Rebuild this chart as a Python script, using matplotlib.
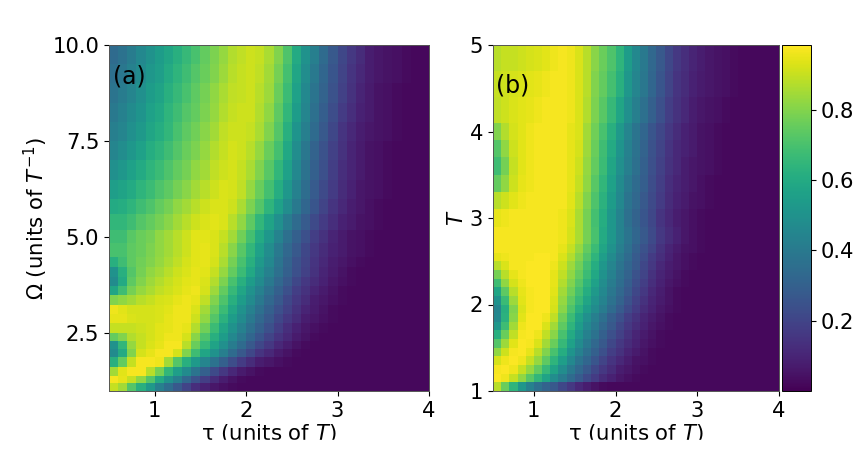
import numpy as np
import matplotlib
matplotlib.use('Agg')
import matplotlib.pyplot as plt
from matplotlib.patches import Rectangle

# values in percent, columns tau = 0.5, 0.6, ... (rest of each row is dark)
dark = 2
tau_edges = np.arange(36) * 0.1 + 0.5

omega_edges = [10.0, 9.5, 9.0, 8.5, 8.0, 7.5, 7.0, 6.5, 6.0, 5.6, 5.2, 4.85, 4.48, 4.22, 3.97, 3.72, 3.5, 3.25, 3.0,
               2.78, 2.52, 2.3, 2.1, 1.88, 1.62, 1.4, 1.2, 1.0]
fid_a = [
    [34, 37, 41, 46, 50, 54, 58, 62, 66, 70, 75, 79, 83, 87, 89, 91, 90, 86, 80, 71, 60, 50, 42, 34, 27, 21, 16, 12, 8, 6, 5, 4, 3],
    [36, 39, 43, 47, 52, 55, 60, 64, 68, 72, 76, 80, 84, 88, 90, 91, 89, 85, 78, 69, 58, 48, 40, 32, 26, 20, 15, 11, 8, 6, 5, 4, 3],
    [38, 41, 45, 49, 54, 57, 62, 66, 70, 74, 78, 82, 86, 89, 90, 91, 88, 84, 76, 67, 56, 46, 38, 31, 25, 19, 14, 10, 7, 5, 4, 3],
    [40, 43, 47, 51, 56, 59, 64, 68, 72, 75, 79, 83, 87, 90, 91, 91, 87, 82, 74, 65, 54, 45, 36, 29, 23, 17, 13, 9, 7, 5, 4, 3],
    [42, 45, 49, 53, 58, 61, 65, 70, 74, 77, 81, 85, 89, 91, 91, 90, 86, 80, 72, 62, 51, 42, 34, 27, 21, 15, 11, 8, 6, 5, 4, 3],
    [45, 48, 52, 56, 61, 64, 68, 72, 76, 79, 83, 87, 90, 92, 91, 88, 83, 76, 69, 59, 48, 39, 31, 25, 19, 14, 10, 7, 5, 4, 3],
    [49, 52, 56, 60, 64, 67, 71, 75, 78, 82, 85, 89, 91, 92, 90, 86, 80, 73, 65, 56, 46, 37, 30, 24, 18, 13, 10, 7, 5, 4, 3],
    [55, 57, 60, 64, 67, 71, 74, 78, 81, 85, 88, 91, 93, 92, 89, 83, 76, 69, 61, 52, 43, 35, 28, 22, 17, 12, 9, 6, 5, 4, 3],
    [60, 61, 64, 68, 71, 75, 78, 82, 85, 88, 91, 93, 93, 91, 86, 79, 72, 64, 56, 48, 40, 32, 26, 20, 15, 11, 8, 6, 4, 3],
    [65, 65, 68, 72, 75, 78, 81, 85, 88, 91, 93, 94, 93, 88, 82, 74, 65, 57, 49, 41, 34, 28, 22, 17, 13, 9, 7, 5, 4, 3],
    [68, 68, 73, 76, 78, 82, 85, 88, 91, 94, 94, 93, 90, 85, 77, 69, 60, 52, 44, 36, 30, 24, 18, 14, 10, 7, 5, 4, 3],
    [70, 70, 74, 76, 79, 82, 85, 88, 91, 94, 95, 93, 88, 81, 73, 65, 56, 48, 40, 33, 27, 21, 16, 12, 9, 7, 5, 4, 3],
    [62, 68, 74, 77, 80, 83, 86, 89, 92, 94, 95, 92, 86, 78, 70, 62, 53, 46, 38, 31, 25, 20, 15, 11, 8, 6, 4, 3],
    [50, 62, 72, 78, 82, 85, 88, 91, 93, 95, 94, 90, 83, 75, 67, 59, 50, 43, 36, 30, 24, 19, 14, 10, 7, 5, 3],
    [47, 60, 74, 80, 84, 87, 90, 92, 94, 95, 93, 87, 79, 70, 62, 54, 47, 40, 33, 27, 21, 16, 12, 9, 6, 4, 3],
    [58, 68, 78, 83, 86, 89, 91, 93, 95, 96, 92, 84, 75, 66, 58, 50, 43, 36, 30, 24, 18, 14, 10, 7, 5, 3],
    [80, 82, 85, 88, 90, 92, 93, 95, 96, 95, 89, 80, 71, 62, 54, 47, 40, 33, 27, 21, 16, 12, 8, 6, 4, 3],
    [96, 94, 92, 92, 92, 93, 94, 96, 96, 93, 85, 76, 67, 58, 50, 43, 36, 30, 24, 19, 14, 10, 7, 5, 3],
    [95, 95, 93, 92, 92, 93, 95, 96, 96, 91, 82, 72, 63, 54, 47, 40, 33, 27, 21, 16, 12, 8, 6, 4, 3],
    [90, 90, 90, 91, 92, 94, 95, 96, 95, 87, 77, 67, 58, 50, 43, 36, 30, 24, 18, 13, 9, 6, 4, 3],
    [75, 80, 87, 90, 92, 94, 96, 96, 92, 81, 71, 62, 54, 46, 39, 32, 26, 20, 15, 11, 7, 5, 3],
    [50, 65, 83, 90, 93, 95, 97, 97, 88, 76, 66, 57, 49, 41, 34, 27, 21, 16, 11, 8, 5, 3],
    [47, 60, 80, 92, 95, 97, 97, 92, 80, 68, 58, 50, 42, 34, 27, 21, 15, 11, 7, 5, 3],
    [62, 75, 90, 97, 97, 96, 85, 72, 62, 53, 45, 37, 30, 23, 17, 12, 8, 6, 4, 3],
    [85, 94, 97, 97, 88, 78, 65, 55, 47, 38, 30, 22, 16, 11, 7, 5, 3],
    [97, 95, 90, 82, 72, 60, 50, 42, 33, 25, 18, 12, 8, 5, 3],
    [90, 85, 72, 62, 53, 42, 35, 27, 20, 13, 9, 6, 4, 3],
]

t_edges = [5.0, 4.7, 4.4, 4.1, 3.9, 3.7, 3.5, 3.3, 3.1, 2.9, 2.7, 2.6, 2.5, 2.4, 2.3, 2.2, 2.1, 2.0, 1.9, 1.8, 1.7,
           1.6, 1.5, 1.4, 1.3, 1.2, 1.1, 1.0]
fid_b = [
    [88, 90, 90, 91, 92, 93, 94, 96, 97, 96, 93, 88, 81, 76, 71, 64, 54, 46, 40, 33, 27, 21, 16, 13, 10, 8, 6, 5, 4, 3],
    [90, 91, 92, 93, 94, 95, 96, 97, 97, 96, 93, 88, 80, 75, 69, 62, 52, 45, 39, 32, 26, 20, 15, 12, 9, 7, 6, 5, 4, 3],
    [89, 91, 93, 94, 95, 96, 97, 97, 97, 96, 93, 87, 79, 73, 66, 58, 49, 42, 36, 30, 24, 18, 14, 11, 8, 6, 5, 4, 3],
    [80, 87, 92, 94, 96, 97, 97, 97, 97, 95, 93, 85, 77, 70, 62, 53, 45, 38, 32, 26, 21, 16, 12, 9, 7, 5, 4, 3],
    [72, 82, 91, 94, 96, 97, 97, 97, 97, 95, 92, 84, 76, 68, 60, 51, 43, 37, 31, 25, 20, 15, 11, 9, 7, 5, 4, 3],
    [68, 78, 90, 94, 96, 97, 97, 97, 97, 95, 91, 83, 75, 67, 58, 49, 42, 36, 30, 24, 19, 14, 11, 8, 6, 5, 4, 3],
    [75, 82, 91, 95, 96, 97, 97, 97, 97, 95, 90, 82, 73, 65, 56, 47, 40, 34, 29, 23, 18, 13, 10, 8, 6, 4, 3],
    [88, 91, 94, 96, 97, 97, 97, 97, 97, 94, 88, 80, 71, 63, 54, 46, 38, 33, 27, 22, 17, 12, 9, 7, 5, 4, 3],
    [95, 96, 97, 97, 97, 97, 97, 97, 96, 93, 86, 78, 69, 61, 52, 44, 36, 31, 26, 21, 15, 11, 8, 6, 4, 3],
    [97, 97, 97, 97, 97, 97, 97, 97, 96, 92, 86, 78, 70, 60, 52, 44, 38, 32, 27, 22, 16, 12, 9, 6, 4, 3],
    [97, 97, 97, 97, 97, 97, 97, 97, 95, 90, 83, 75, 67, 58, 50, 42, 36, 30, 25, 20, 14, 10, 7, 5, 4, 3],
    [95, 96, 97, 97, 97, 98, 98, 97, 93, 87, 80, 72, 64, 55, 47, 40, 34, 28, 23, 17, 13, 9, 6, 4, 3],
    [88, 93, 97, 97, 98, 98, 98, 96, 91, 84, 77, 69, 61, 52, 45, 38, 32, 27, 21, 16, 11, 8, 6, 4, 3],
    [78, 88, 95, 97, 98, 98, 98, 95, 89, 82, 75, 67, 59, 50, 43, 36, 31, 25, 20, 14, 10, 7, 5, 3],
    [68, 82, 92, 96, 98, 98, 98, 95, 87, 80, 72, 64, 56, 48, 41, 35, 29, 23, 18, 13, 9, 6, 4, 3],
    [58, 74, 88, 95, 97, 98, 98, 94, 85, 77, 69, 61, 53, 46, 39, 33, 27, 21, 16, 11, 8, 5, 3],
    [50, 67, 84, 94, 97, 98, 98, 93, 83, 74, 66, 58, 50, 44, 37, 31, 25, 19, 14, 10, 7, 5, 3],
    [45, 62, 80, 93, 97, 98, 98, 92, 81, 71, 62, 54, 47, 41, 34, 28, 22, 17, 12, 9, 6, 4, 3],
    [46, 63, 81, 94, 98, 98, 96, 89, 77, 67, 57, 49, 42, 36, 29, 24, 18, 14, 10, 7, 5, 3],
    [52, 68, 85, 96, 98, 98, 93, 85, 74, 64, 54, 46, 40, 33, 27, 21, 16, 12, 9, 6, 4, 3],
    [62, 76, 89, 97, 98, 96, 89, 81, 70, 60, 51, 43, 37, 30, 24, 19, 14, 10, 7, 5, 3],
    [72, 84, 94, 98, 97, 93, 85, 76, 66, 56, 47, 40, 33, 27, 21, 16, 12, 9, 6, 4, 3],
    [82, 91, 97, 98, 95, 88, 80, 70, 61, 51, 43, 36, 30, 24, 18, 14, 10, 7, 5, 3],
    [92, 96, 98, 96, 90, 83, 74, 64, 55, 46, 38, 32, 26, 20, 15, 11, 8, 5, 4, 3],
    [97, 98, 96, 90, 83, 75, 66, 57, 48, 40, 33, 27, 21, 16, 12, 8, 6, 4, 3],
    [98, 96, 90, 82, 73, 65, 57, 48, 41, 34, 28, 22, 17, 12, 9, 6, 4, 3],
    [88, 76, 64, 52, 43, 36, 31, 27, 21, 16, 11, 8, 5, 3],
]


def to_grid(rows):
    # pad every row with the dark tail
    grid = np.full((len(rows), 35), dark, dtype=float)
    for i, r in enumerate(rows):
        grid[i, :len(r)] = r
    return grid / 100.0


fig = plt.figure(figsize=(8.64, 4.66), dpi=100)
W, H = 864.0, 466.0


def px_axes(x0, y0, x1, y1):
    return fig.add_axes([x0 / W, 1 - y1 / H, (x1 - x0) / W, (y1 - y0) / H])


ax1 = px_axes(109, 45, 429, 391)
ax2 = px_axes(493, 45, 779, 391)
cax = px_axes(782, 45, 811, 391)

m1 = ax1.pcolormesh(tau_edges, omega_edges, to_grid(fid_a), cmap='viridis', vmin=0.0, vmax=0.985)
m2 = ax2.pcolormesh(tau_edges, t_edges, to_grid(fid_b), cmap='viridis', vmin=0.0, vmax=0.985)

ax1.set_xlim(0.5, 4)
ax1.set_ylim(1, 10)
ax1.set_xticks([1, 2, 3, 4])
ax1.set_yticks([2.5, 5.0, 7.5, 10.0])
ax1.set_yticklabels(['2.5', '5.0', '7.5', '10.0'])
ax1.set_xlabel('τ (units of $T$)', fontsize=15.3, labelpad=1)
ax1.set_ylabel(r'$\Omega$ (units of $T^{-1}$)', fontsize=15.3, labelpad=2)
ax1.text(0.012, 0.888, '(a)', transform=ax1.transAxes, fontsize=17, color='black')

ax2.set_xlim(0.5, 4)
ax2.set_ylim(1, 5)
ax2.set_xticks([1, 2, 3, 4])
ax2.set_yticks([1, 2, 3, 4, 5])
ax2.set_xlabel('τ (units of $T$)', fontsize=15.3, labelpad=1)
ax2.set_ylabel(r'$T$', fontsize=15.3, labelpad=2)
ax2.text(0.012, 0.864, '(b)', transform=ax2.transAxes, fontsize=17, color='black')

cb = fig.colorbar(m2, cax=cax)
cb.set_ticks([0.2, 0.4, 0.6, 0.8])
cb.ax.tick_params(labelsize=15.2)
cb.outline.set_linewidth(0.7)

for ax in [ax1, ax2]:
    ax.tick_params(labelsize=15.2)
    for s in ax.spines.values():
        s.set_linewidth(0.7)
        s.set_color('#555555')

# the bottom of the picture is cut off just under the x labels
fig.add_artist(Rectangle((0, 0), 1, 1 - 440 / H, transform=fig.transFigure, color='white', zorder=10))

fig.savefig('out.png', dpi=100)
